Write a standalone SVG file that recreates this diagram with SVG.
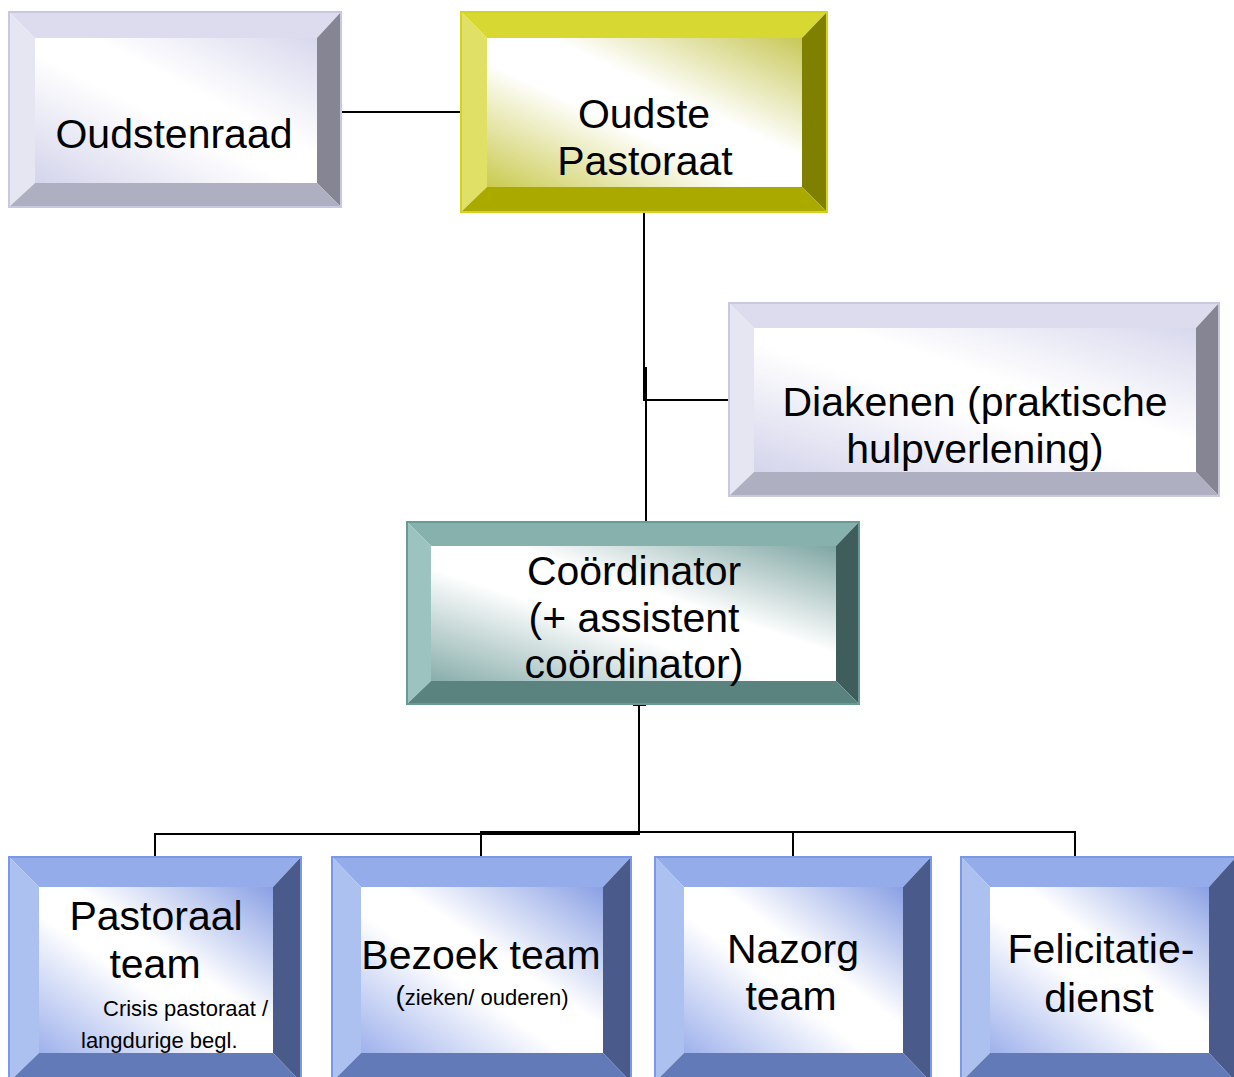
<svg xmlns="http://www.w3.org/2000/svg" width="1234" height="1077" viewBox="0 0 1234 1077">
<defs>
<linearGradient id="gLav" x1="0" y1="1" x2="1" y2="0">
<stop offset="0" stop-color="#d4d4ec"/><stop offset="0.45" stop-color="#ffffff"/><stop offset="0.6" stop-color="#ffffff"/><stop offset="1" stop-color="#d8d8ee"/>
</linearGradient>
<linearGradient id="gYel" x1="0" y1="1" x2="1" y2="0">
<stop offset="0" stop-color="#caca50"/><stop offset="0.42" stop-color="#ffffff"/><stop offset="0.6" stop-color="#ffffff"/><stop offset="1" stop-color="#c8c858"/>
</linearGradient>
<linearGradient id="gTeal" x1="0" y1="1" x2="1" y2="0">
<stop offset="0" stop-color="#88aeab"/><stop offset="0.42" stop-color="#ffffff"/><stop offset="0.6" stop-color="#ffffff"/><stop offset="1" stop-color="#7ea6a3"/>
</linearGradient>
<linearGradient id="gBlue" x1="0" y1="1" x2="1" y2="0">
<stop offset="0" stop-color="#9eb1ec"/><stop offset="0.42" stop-color="#ffffff"/><stop offset="0.58" stop-color="#ffffff"/><stop offset="1" stop-color="#8aa0e4"/>
</linearGradient>
</defs>
<style>
text{font-family:"Liberation Sans",Arial,sans-serif;fill:#000;text-anchor:middle;font-size:41px}
.sm{font-size:22px}
.lav .t{fill:#dcdcee}.lav .l{fill:#e6e6f2}.lav .r{fill:#858593}.lav .b{fill:#afafc2}.lav .o{fill:none;stroke:#c8c8e0;stroke-width:2}.lav .i{fill:url(#gLav)}
.yel .t{fill:#d8d832}.yel .l{fill:#e0e066}.yel .r{fill:#7f7f00}.yel .b{fill:#a9a900}.yel .o{fill:none;stroke:#d4d420;stroke-width:2}.yel .i{fill:url(#gYel)}
.teal .t{fill:#86b1ad}.teal .l{fill:#9cc3bf}.teal .r{fill:#3f5e5b}.teal .b{fill:#5a8380}.teal .o{fill:none;stroke:#6a9a96;stroke-width:2}.teal .i{fill:url(#gTeal)}
.blue .t{fill:#94acea}.blue .l{fill:#adc1f1}.blue .r{fill:#4a5b8b}.blue .b{fill:#637ab8}.blue .o{fill:none;stroke:#7b98e6;stroke-width:2}.blue .i{fill:url(#gBlue)}
.conn path{fill:none;stroke:#000;stroke-width:2}
</style>

<g id="connectors" class="conn">
<path d="M342 112 H461"/>
<path d="M644 212 V400 H729"/>
<path d="M646 367 V522"/>
<path d="M633 705 H646"/>
<path d="M639 705 V834 H155 V857"/>
<path d="M481 857 V832 H1075 V857"/>
<path d="M793 832 V857"/>
</g>

<g id="oudstenraad" class="lav">
<polygon class="t" points="9,12 341,12 317,38 35,38"/>
<polygon class="l" points="9,12 35,38 35,183 9,207"/>
<polygon class="r" points="341,12 341,207 317,183 317,38"/>
<polygon class="b" points="9,207 35,183 317,183 341,207"/>
<rect class="i" x="35" y="38" width="282" height="145"/>
<rect class="o" x="9" y="12" width="332" height="195"/>
<text x="174" y="148">Oudstenraad</text>
</g>

<g id="oudste-pastoraat" class="yel">
<polygon class="t" points="461,12 827,12 802,38 487,38"/>
<polygon class="l" points="461,12 487,38 487,187 461,212"/>
<polygon class="r" points="827,12 827,212 802,187 802,38"/>
<polygon class="b" points="461,212 487,187 802,187 827,212"/>
<rect class="i" x="487" y="38" width="315" height="149"/>
<rect class="o" x="461" y="12" width="366" height="200"/>
<text x="644" y="128">Oudste</text>
<text x="645" y="175">Pastoraat</text>
</g>

<g id="diakenen" class="lav">
<polygon class="t" points="729,303 1219,303 1196,328 754,328"/>
<polygon class="l" points="729,303 754,328 754,472 729,496"/>
<polygon class="r" points="1219,303 1219,496 1196,472 1196,328"/>
<polygon class="b" points="729,496 754,472 1196,472 1219,496"/>
<rect class="i" x="754" y="328" width="442" height="144"/>
<rect class="o" x="729" y="303" width="490" height="193"/>
<text x="975" y="416">Diakenen (praktische</text>
<text x="975" y="463">hulpverlening)</text>
</g>

<g id="coordinator" class="teal">
<polygon class="t" points="407,522 859,522 836,546 431,546"/>
<polygon class="l" points="407,522 431,546 431,681 407,704"/>
<polygon class="r" points="859,522 859,704 836,681 836,546"/>
<polygon class="b" points="407,704 431,681 836,681 859,704"/>
<rect class="i" x="431" y="546" width="405" height="135"/>
<rect class="o" x="407" y="522" width="452" height="182"/>
<text x="634" y="585">Coördinator</text>
<text x="634" y="632">(+ assistent</text>
<text x="634" y="678">coördinator)</text>
</g>

<g id="pastoraal-team" class="blue">
<polygon class="t" points="9,857 301,857 273,887 39,887"/>
<polygon class="l" points="9,857 39,887 39,1053 9,1082"/>
<polygon class="r" points="301,857 301,1082 273,1053 273,887"/>
<polygon class="b" points="9,1082 39,1053 273,1053 301,1082"/>
<rect class="i" x="39" y="887" width="234" height="166"/>
<rect class="o" x="9" y="857" width="292" height="225"/>
<text x="156" y="930">Pastoraal</text>
<text x="155" y="978">team</text>
<text class="sm" x="103" y="1016" style="text-anchor:start">Crisis pastoraat /</text>
<text class="sm" x="81" y="1048" style="text-anchor:start">langdurige begl.</text>
</g>

<g id="bezoek-team" class="blue">
<polygon class="t" points="332,857 631,857 603,887 361,887"/>
<polygon class="l" points="332,857 361,887 361,1053 332,1082"/>
<polygon class="r" points="631,857 631,1082 603,1053 603,887"/>
<polygon class="b" points="332,1082 361,1053 603,1053 631,1082"/>
<rect class="i" x="361" y="887" width="242" height="166"/>
<rect class="o" x="332" y="857" width="299" height="225"/>
<text x="481" y="969">Bezoek team</text>
<text x="482" y="1005" style="font-size:22px"><tspan style="font-size:28px">(</tspan>zieken/ ouderen)</text>
</g>

<g id="nazorg-team" class="blue">
<polygon class="t" points="655,857 931,857 903,887 684,887"/>
<polygon class="l" points="655,857 684,887 684,1053 655,1082"/>
<polygon class="r" points="931,857 931,1082 903,1053 903,887"/>
<polygon class="b" points="655,1082 684,1053 903,1053 931,1082"/>
<rect class="i" x="684" y="887" width="219" height="166"/>
<rect class="o" x="655" y="857" width="276" height="225"/>
<text x="793" y="963">Nazorg</text>
<text x="791" y="1010">team</text>
</g>

<g id="felicitatiedienst" class="blue">
<polygon class="t" points="961,857 1236,857 1209,887 990,887"/>
<polygon class="l" points="961,857 990,887 990,1053 961,1082"/>
<polygon class="r" points="1236,857 1236,1082 1209,1053 1209,887"/>
<polygon class="b" points="961,1082 990,1053 1209,1053 1236,1082"/>
<rect class="i" x="990" y="887" width="219" height="166"/>
<rect class="o" x="961" y="857" width="275" height="225"/>
<text x="1101" y="963">Felicitatie-</text>
<text x="1099" y="1012">dienst</text>
</g>
</svg>
